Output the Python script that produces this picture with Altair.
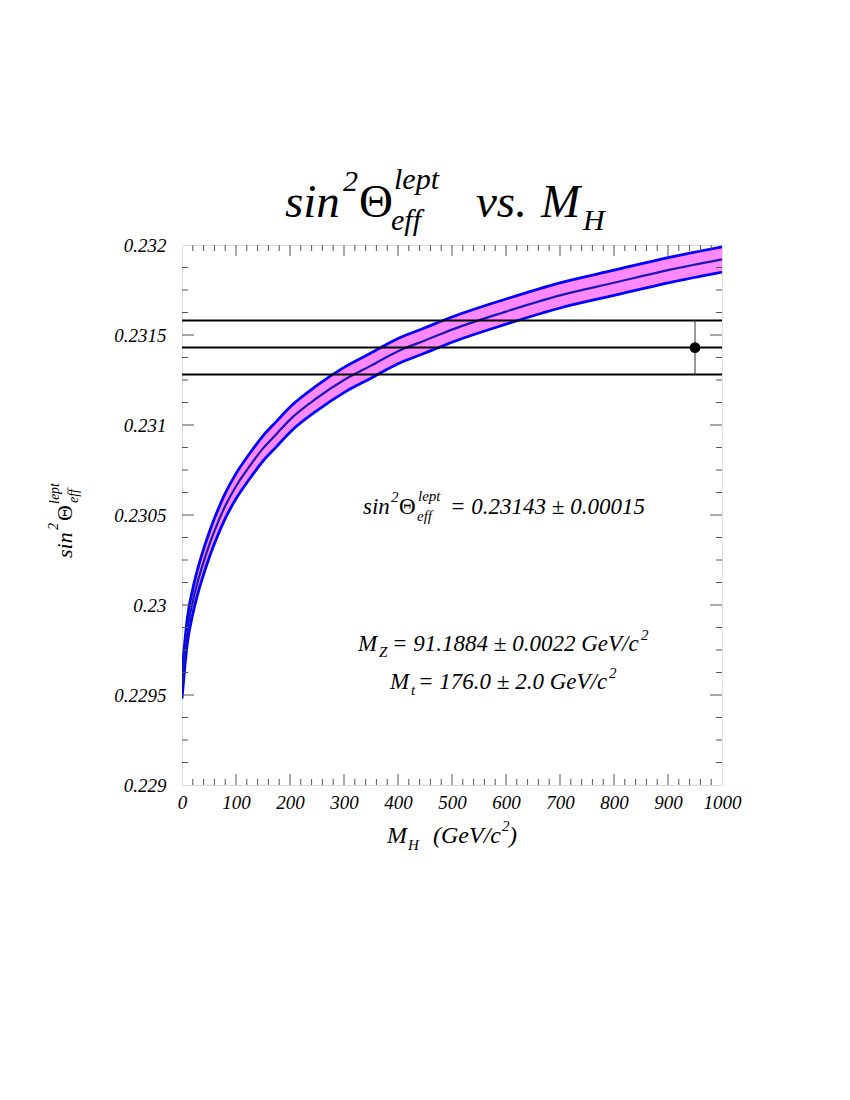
import altair as alt
import pandas as pd

# ---- data ----
mh = [0, 5, 10, 20, 30, 40, 50, 60, 80, 100, 125, 150, 175, 200, 250, 300,
      350, 400, 450, 500, 600, 700, 800, 900, 1000]
center = [0.22955, 0.22972, 0.22986, 0.23002, 0.23014, 0.23024, 0.23033, 0.23041,
          0.23055, 0.23066, 0.23077, 0.23087, 0.23095, 0.23103, 0.23115, 0.23125,
          0.23133, 0.23141, 0.23147, 0.23153, 0.23163, 0.23172, 0.23179, 0.23186,
          0.23192]
upper = [0.22962, 0.22979, 0.22993, 0.23009, 0.23021, 0.23031, 0.23040, 0.23048,
         0.23062, 0.23073, 0.23084, 0.23094, 0.23102, 0.23110, 0.23122, 0.23132,
         0.23140, 0.23148, 0.23154, 0.23160, 0.23170, 0.23179, 0.23186, 0.23193,
         0.23199]
lower = [0.22948, 0.22965, 0.22979, 0.22995, 0.23007, 0.23017, 0.23026, 0.23034,
         0.23048, 0.23059, 0.23070, 0.23080, 0.23088, 0.23096, 0.23108, 0.23118,
         0.23126, 0.23134, 0.23140, 0.23146, 0.23156, 0.23165, 0.23172, 0.23179,
         0.23185]

meas_value = 0.23143
meas_err = 0.00015
meas_lines = [0.23128, 0.23143, 0.23158]
meas_x = 950

x_major = [0, 100, 200, 300, 400, 500, 600, 700, 800, 900, 1000]
y_major = [0.229, 0.2295, 0.23, 0.2305, 0.231, 0.2315, 0.232]
x_minor = [v for v in range(0, 1001, 20) if v % 100 != 0]
y_minor = [round(0.229 + i * 0.000125, 6) for i in range(25) if i % 4 != 0]

# ---- layout ----
W, H = 540, 540
L0, T0 = 182, 245  # page position of plot area
FONT = "Liberation Serif"
FRAME = "#555555"

band_df = pd.DataFrame({"mh": mh, "center": center, "upper": upper, "lower": lower})
xs = alt.Scale(domain=[0, 1000], nice=False, zero=False)
ys = alt.Scale(domain=[0.229, 0.232], nice=False, zero=False)

xaxis = alt.Axis(values=x_major, format="d", ticks=False, domain=False, grid=False,
                 title=None, labelFont=FONT, labelFontStyle="italic", labelFontSize=19,
                 labelColor="black", labelPadding=8, labelFlush=False, labelOverlap=False)
yaxis = alt.Axis(values=y_major, format="~g", ticks=False, domain=False, grid=False,
                 title=None, labelFont=FONT, labelFontStyle="italic", labelFontSize=19,
                 labelColor="black", labelPadding=16, labelOverlap=False)

base = alt.Chart(band_df)
band = base.mark_area(color="#ff88ff", interpolate="monotone", clip=True).encode(
    x=alt.X("mh:Q", scale=xs, axis=xaxis),
    y=alt.Y("lower:Q", scale=ys, axis=yaxis),
    y2="upper:Q",
)
up_line = base.mark_line(color="#0000ff", strokeWidth=2.8, interpolate="monotone", clip=True).encode(
    x=alt.X("mh:Q", scale=xs), y=alt.Y("upper:Q", scale=ys))
lo_line = base.mark_line(color="#0000ff", strokeWidth=2.8, interpolate="monotone", clip=True).encode(
    x=alt.X("mh:Q", scale=xs), y=alt.Y("lower:Q", scale=ys))
c_line = base.mark_line(color="#1818b4", strokeWidth=2.2, interpolate="monotone", clip=True).encode(
    x=alt.X("mh:Q", scale=xs), y=alt.Y("center:Q", scale=ys))

hl_df = pd.DataFrame({"y": meas_lines, "x0": [0] * 3, "x1": [1000] * 3})
hlines = alt.Chart(hl_df).mark_rule(color="black", strokeWidth=2).encode(
    x=alt.X("x0:Q", scale=xs), x2="x1:Q", y=alt.Y("y:Q", scale=ys))

pt_df = pd.DataFrame({"x": [meas_x], "y": [meas_value],
                      "lo": [meas_value - meas_err], "hi": [meas_value + meas_err]})
ebar = alt.Chart(pt_df).mark_rule(color="#333333", strokeWidth=1).encode(
    x=alt.X("x:Q", scale=xs), y=alt.Y("lo:Q", scale=ys), y2="hi:Q")
point = alt.Chart(pt_df).mark_circle(color="black", size=115, opacity=1).encode(
    x=alt.X("x:Q", scale=xs), y=alt.Y("y:Q", scale=ys))

# ---- inward ticks on all four sides ----
def xticks(vals, length):
    d = pd.DataFrame({"v": vals})
    b = alt.Chart(d).mark_rule(color=FRAME, strokeWidth=1)
    return [b.encode(x=alt.X("v:Q", scale=xs), y=alt.value(H), y2=alt.value(H - length)),
            b.encode(x=alt.X("v:Q", scale=xs), y=alt.value(0), y2=alt.value(length))]

def yticks(vals, length):
    d = pd.DataFrame({"v": vals})
    b = alt.Chart(d).mark_rule(color=FRAME, strokeWidth=1)
    return [b.encode(y=alt.Y("v:Q", scale=ys), x=alt.value(0), x2=alt.value(length)),
            b.encode(y=alt.Y("v:Q", scale=ys), x=alt.value(W), x2=alt.value(W - length))]

ticks = (xticks(x_major[1:-1], 11) + xticks(x_minor, 6)
         + yticks(y_major[1:-1], 12) + yticks(y_minor, 6))

# ---- text pieces (page coordinates) ----
def txt(s, px, py, size, style="italic", angle=0):
    return alt.Chart(alt.Data(values=[{}])).mark_text(
        text=s, font=FONT, fontSize=size, fontStyle=style, align="left",
        baseline="alphabetic", angle=angle, color="black"
    ).encode(x=alt.value(px - L0), y=alt.value(py - T0))

texts = [
    # title
    txt("sin", 285, 217, 47), txt("2", 343, 191, 30), txt("Θ", 359, 217, 47, "normal"),
    txt("lept", 394, 189, 30), txt("eff", 391, 230, 30),
    txt("vs.", 476, 217, 47), txt("M", 541, 217, 47), txt("H", 583, 230, 30),
    # result annotation
    txt("sin", 363, 514, 23), txt("2", 391, 502, 15), txt("Θ", 399, 514, 23, "normal"),
    txt("lept", 418, 501, 15), txt("eff", 417, 521, 15),
    txt("= 0.23143 ± 0.00015", 450, 514, 23),
    # inputs
    txt("M", 358, 651, 23), txt("Z", 379, 657, 15),
    txt("= 91.1884 ± 0.0022 GeV/c", 392, 651, 23), txt("2", 641, 640, 15),
    txt("M", 390, 689, 23), txt("t", 411, 695, 15),
    txt("= 176.0 ± 2.0 GeV/c", 418, 689, 23), txt("2", 609, 678, 15),
    # x axis title
    txt("M", 387, 843, 24), txt("H", 408, 850, 15),
    txt("(GeV/c", 433, 843, 24), txt("2", 502, 831, 15), txt(")", 509, 843, 24),
    # y axis title (rotated)
    txt("sin", 72, 558, 22, angle=270), txt("2", 58, 530, 14, angle=270),
    txt("Θ", 72, 521, 22, "normal", angle=270),
    txt("lept", 59, 504, 14, angle=270), txt("eff", 78, 503, 14, angle=270),
]

chart = alt.layer(band, up_line, lo_line, c_line, hlines, ebar, point, *ticks, *texts).properties(
    width=W, height=H,
    autosize=alt.AutoSizeParams(type="none"),
    padding={"left": L0 - 8, "top": T0 - 8, "right": 100, "bottom": 280},
).configure_view(stroke=FRAME, strokeWidth=1.2).configure(background="white")

chart.save("out.html", embed_options={"renderer": "svg", "actions": False})
